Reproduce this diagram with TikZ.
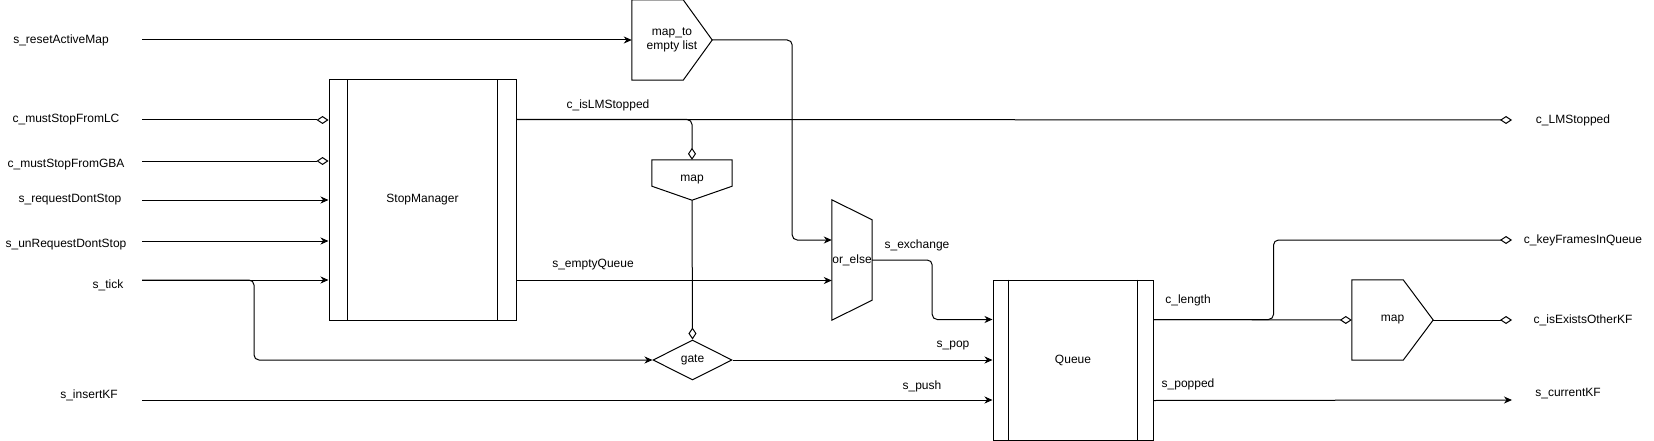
\documentclass[tikz,border=0pt]{standalone}
\usepackage{fontspec}
\setmainfont{Liberation Sans}
\usetikzlibrary{arrows.meta, positioning, calc, shapes.geometric}

\tikzset{
  every node/.style={font=\fontsize{12}{14}\selectfont, inner sep=0pt},
  wire/.style={line width=1pt, rounded corners=5pt},
  arr/.style={wire, -{Stealth[length=8pt, width=7pt, inset=2.5pt]}},
  dia/.style={wire, -{Diamond[open, length=12pt, width=8pt, fill=white]}},
  procbox/.style={draw, line width=1pt, minimum width=#1, minimum height=#1},
  shapebox/.style={minimum width=80pt, minimum height=80pt},
}
\newcommand{\sidebars}[2]{%
  \draw[line width=1pt] ($(#1.north west)+(#2,0)$) -- ($(#1.south west)+(#2,0)$);
  \draw[line width=1pt] ($(#1.north east)+(-#2,0)$) -- ($(#1.south east)+(-#2,0)$);}

\begin{document}
\begin{tikzpicture}[x=1pt, y=-1pt]
  \useasboundingbox (0,0) rectangle (1654,441);

  % blocks
  \node[procbox=160pt, minimum width=187pt, minimum height=240pt] (stopmgr) at (422.5,200) {StopManager};
  \sidebars{stopmgr}{19}
  \node[procbox=160pt] (queue) at (1073,360) {Queue};
  \sidebars{queue}{16}

  \node[shapebox, align=center] (maptoempty) at (672,40) {map\_to\\empty list};
  \draw[line width=1pt] (maptoempty.north west) -- ($(maptoempty.north east)+(-29,0)$)
    -- (maptoempty.east) -- ($(maptoempty.south east)+(-29,0)$) -- (maptoempty.south west) -- cycle;

  \node[shapebox, minimum height=40pt] (mapstop) at (692,180) {map};
  \draw[line width=1pt] (mapstop.north west) -- (mapstop.north east)
    -- ($(mapstop.south east)+(0,-14)$) -- (mapstop.south) -- ($(mapstop.south west)+(0,-14)$) -- cycle;

  \node[shapebox, minimum width=81pt] (maplen) at (1392.5,320) {map};
  \draw[line width=1pt] (maplen.north west) -- ($(maplen.north east)+(-30,0)$)
    -- (maplen.east) -- ($(maplen.south east)+(-30,0)$) -- (maplen.south west) -- cycle;

  \node[minimum width=40pt, minimum height=120pt] (orelse) at (852,260) {or\_else};
  \draw[line width=1pt] (orelse.north west) -- ($(orelse.north east)+(0,20)$)
    -- ($(orelse.south east)+(0,-20)$) -- (orelse.south west) -- cycle;

  \node[diamond, draw, line width=1pt, aspect=2, minimum width=79pt, minimum height=40pt] (gate) at (692.5,360) {gate};

  % inputs
  \node (lresetmap) at (61,40) {s\_resetActiveMap};
  \node (lstoplc) at (66,120) {c\_mustStopFromLC};
  \node (lstopgba) at (66,165) {c\_mustStopFromGBA};
  \node (lreqstop) at (70,200) {s\_requestDontStop};
  \node (lunreqstop) at (66,245) {s\_unRequestDontStop};
  \node (ltick) at (108,285) {s\_tick};
  \node (linsertkf) at (89,395) {s\_insertKF};
  \coordinate (inresetmap) at (142,40);
  \coordinate (instoplc) at (142,120);
  \coordinate (instopgba) at (142,161);
  \coordinate (inreqstop) at (142,200);
  \coordinate (inunreqstop) at (142,241);
  \coordinate (intick) at (142,280);
  \coordinate (ticksplit) at (254,280);
  \coordinate (ininsertkf) at (142,400);

  % outputs
  \node (llmstopped) at (1573,120) {c\_LMStopped};
  \node (lkfinqueue) at (1583,240) {c\_keyFramesInQueue};
  \node (lexistskf) at (1583,320) {c\_isExistsOtherKF};
  \node (lcurrentkf) at (1568,394) {s\_currentKF};
  \coordinate (outlmstopped) at (1512,120);
  \coordinate (outkfinqueue) at (1512,240);
  \coordinate (outexistskf) at (1512,320);
  \coordinate (outcurrentkf) at (1512,400);

  \coordinate (smlmstopped) at ($(stopmgr.north east)+(0,40)$);
  \coordinate (smemptyq) at ($(stopmgr.south east)+(0,-40)$);
  \coordinate (qlength) at ($(queue.north east)+(0,40)$);
  \coordinate (qpopped) at ($(queue.south east)+(0,-40)$);

  % connectors
  \draw[arr] (inresetmap) -- (maptoempty.west);
  \draw[dia] (instoplc) -- (stopmgr.west |- instoplc);
  \draw[dia] (instopgba) -- (stopmgr.west |- instopgba);
  \draw[arr] (inreqstop) -- (stopmgr.west |- inreqstop);
  \draw[arr] (inunreqstop) -- (stopmgr.west |- inunreqstop);
  \draw[arr] (intick) -- (stopmgr.west |- intick);
  \draw[arr] (intick) -- (ticksplit) |- (gate.west);
  \draw[arr] (ininsertkf) -- (queue.west |- ininsertkf) node[pos=0.917, above=8pt] {s\_push};

  \draw[arr] (maptoempty.east) -- ++(80,0) |- ($(orelse.west)+(0,-20)$);
  \draw[dia] (smlmstopped) -- (outlmstopped);
  \node at (608,105) {c\_isLMStopped};
  \draw[dia] (smlmstopped) -| (mapstop.north);
  \draw[dia] (mapstop.south) -- (gate.north);
  \draw[arr] (smemptyq) -- (orelse.west |- smemptyq);
  \node at (593,265) {s\_emptyQueue};

  \draw[arr] (orelse.east) -- ++(60,0) |- ($(queue.north west)+(0,40)$);
  \node at (917,245) {s\_exchange};
  \draw[arr] (gate.east) -- (queue.west);
  \node at (953,346) {s\_pop};

  \draw[dia] (qlength) -- (maplen.west);
  \draw[dia] (qlength) -- ++(120,0) |- (outkfinqueue);
  \node at (1188,300) {c\_length};
  \draw[dia] (maplen.east) -- (outexistskf);
  \draw[arr] (qpopped) -- (outcurrentkf);
  \node at (1188,384) {s\_popped};
\end{tikzpicture}
\end{document}
